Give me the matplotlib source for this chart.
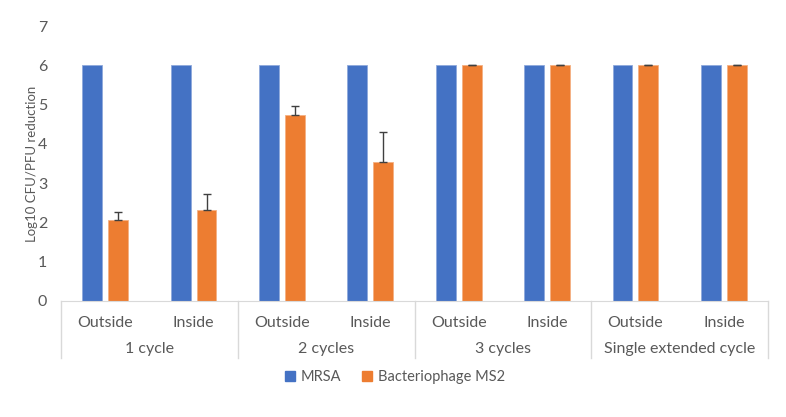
import numpy as np
import matplotlib.pyplot as plt
from matplotlib.patches import Patch

plt.rcParams['font.family'] = ['Lato', 'DejaVu Sans']

groups = ["1 cycle", "2 cycles", "3 cycles", "Single extended cycle"]
sides = ["Outside", "Inside"]
mrsa = [6, 6, 6, 6, 6, 6, 6, 6]
ms2 = [2.07, 2.32, 4.74, 3.55, 6, 6, 6, 6]
ms2_err = [0.2, 0.4, 0.23, 0.76, 0.01, 0.01, 0.01, 0.01]

BLUE = "#4472c4"
ORANGE = "#ed7d31"
GRAY = "#595959"
LINE = "#d9d9d9"

W, H = 786, 417
fig = plt.figure(figsize=(W / 100, H / 100), dpi=100)
ax = fig.add_axes([61 / W, (H - 301) / H, (768 - 61) / W, (301 - 26) / H])

x = np.arange(len(mrsa))
bw = 0.225
off = 0.147
ax.bar(x - off, mrsa, bw, color=BLUE, edgecolor="#8fa9dc", linewidth=0.6)
ax.bar(x + off, ms2, bw, color=ORANGE, edgecolor="#f4b183", linewidth=0.6)
ax.errorbar(x + off, ms2, yerr=[np.zeros(len(ms2)), ms2_err], fmt="none",
            ecolor="#404040", elinewidth=1, capsize=3, capthick=1)

ax.set_xlim(-0.5, len(mrsa) - 0.5)
ax.set_ylim(0, 7)
ax.set_yticks(range(8))
ax.tick_params(axis="y", length=0, labelcolor=GRAY, labelsize=11.5, pad=10)
ax.set_xticks(x)
ax.set_xticklabels(sides * len(groups))
ax.tick_params(axis="x", length=0, labelcolor=GRAY, labelsize=11.5, pad=11)
for s in ["top", "right", "left"]:
    ax.spines[s].set_visible(False)
ax.spines["bottom"].set_color(LINE)

ax.set_ylabel("Log10 CFU/PFU reduction", color=GRAY, fontsize=9.5, labelpad=0)

# group separators and labels
trans = ax.get_xaxis_transform()
depth = -57 / 275
for i in range(len(groups) + 1):
    xp = i * 2 - 0.5
    ax.plot([xp, xp], [0, depth], color=LINE, lw=1, transform=trans, clip_on=False)
for i, g in enumerate(groups):
    ax.text(i * 2 + 0.5, -48 / 275, g, transform=trans, ha="center", va="center",
            color=GRAY, fontsize=11.5)

handles = [Patch(color=BLUE, label="MRSA"), Patch(color=ORANGE, label="Bacteriophage MS2")]
fig.legend(handles=handles, loc="center", bbox_to_anchor=(395 / W, (H - 377) / H),
           ncol=2, frameon=False, fontsize=10.5, handlelength=0.7, handleheight=0.7,
           handletextpad=0.4, columnspacing=1.4, labelcolor=GRAY)

fig.savefig("out.png", dpi=100)
